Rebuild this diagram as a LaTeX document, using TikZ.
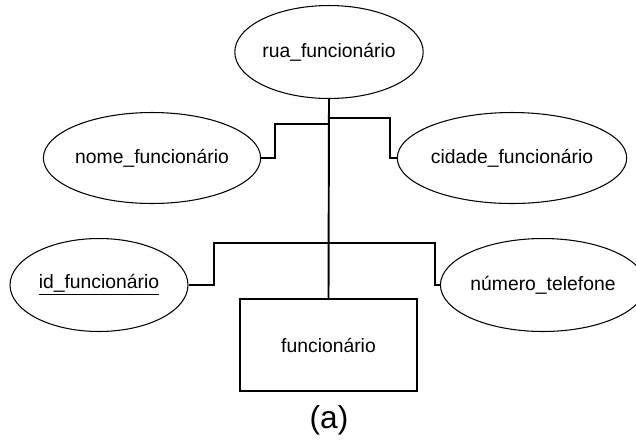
\documentclass[tikz,border=0pt]{standalone}
\usepackage{fontspec}
\setmainfont{Liberation Sans}
\usetikzlibrary{shapes.geometric}
\begin{document}
\begin{tikzpicture}[x=0.02cm, y=-0.02cm,
  attr/.style={ellipse, draw, line width=0.6pt, inner sep=0pt, minimum width=3.56cm, minimum height=1.86cm, font=\fontsize{11}{13}\selectfont},
  entity/.style={rectangle, draw, line width=0.8pt, minimum width=3.54cm, minimum height=1.84cm, font=\fontsize{11}{13}\selectfont},
  link/.style={line width=1.1pt}]
\useasboundingbox (0,0) rectangle (636,441);

\node[attr] (rua) at (329,52) {rua\_funcionário};
\node[attr, minimum height=1.82cm] (nome) at (152,158) {nome\_funcionário};
\node[attr, minimum width=3.9cm, minimum height=1.82cm] (cidade) at (512,158) {cidade\_funcionário};
\node[attr] (id) at (99,285) {\underline{id\_funcionário}};
\node[attr, minimum width=3.68cm] (tel) at (543,285) {número\_telefone};
\node[entity] (func) at (328.5,345) {funcionário};
\node[font=\fontsize{18}{20}\selectfont] (cap) at (329,420) {(a)};

% tronco central
\draw[link] (rua.south) -- (func.north);
\coordinate (jA) at (rua.south |- 0,118);
\coordinate (jB) at (rua.south |- 0,124);
\coordinate (jC) at (rua.south |- 0,243);

\draw[link] (nome.east) -| (275,124) -- (jB);
\draw[link] (cidade.west) -| (390,118) -- (jA);
\draw[link] (id.east) -| (214,243) -- (jC);
\draw[link] (tel.west) -| (435,243) -- (jC);
\end{tikzpicture}
\end{document}
